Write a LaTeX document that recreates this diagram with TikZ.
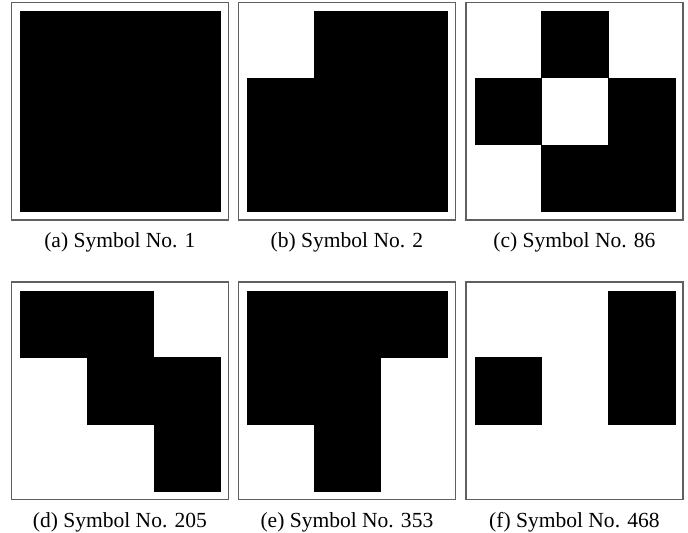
\documentclass[tikz,border=0pt]{standalone}
\usepackage{fontspec}
\setmainfont{Liberation Serif}
\definecolor{framegray}{RGB}{96,96,96}
\newcommand\capfont{\fontsize{21.6}{26}\selectfont}
\tikzset{
  frame/.style={draw=framegray, line width=1.5bp},
  cellfill/.style={fill=black},
  caption/.style={font=\capfont, anchor=base, inner sep=0pt}
}
% #1 x, #2 y of frame top-left, #3 list of black cells row/col, #4 caption, #5 name
\newcommand\symbolpanel[5]{%
  \draw[frame] (#1,#2) rectangle ++(216.8,217.5);
  \foreach \r/\c in {#3} {
    \fill[cellfill] ({#1+8.5+\c*66.9},{#2+8.5+\r*66.9}) rectangle ++(67.2,67.2);
  }
  \node[caption] (#5) at ({#1+108.4},{#2+245}) {#4};
}
\begin{document}
\begin{tikzpicture}[x=1bp,y=-1bp]
\useasboundingbox (0,0) rectangle (688,533);
\symbolpanel{11.5}{2.5}{0/0,0/1,0/2,1/0,1/1,1/2,2/0,2/1,2/2}{(a) Symbol No. 1}{capa}
\symbolpanel{238.5}{2.5}{0/1,0/2,1/0,1/1,1/2,2/0,2/1,2/2}{(b) Symbol No. 2}{capb}
\symbolpanel{466}{2.5}{0/1,1/0,1/2,2/1,2/2}{(c) Symbol No. 86}{capc}
\symbolpanel{11.5}{282}{0/0,0/1,1/1,1/2,2/2}{(d) Symbol No. 205}{capd}
\symbolpanel{238.5}{282}{0/0,0/1,0/2,1/0,1/1,2/1}{(e) Symbol No. 353}{cape}
\symbolpanel{466}{282}{0/2,1/0,1/2}{(f) Symbol No. 468}{capf}
\end{tikzpicture}
\end{document}
